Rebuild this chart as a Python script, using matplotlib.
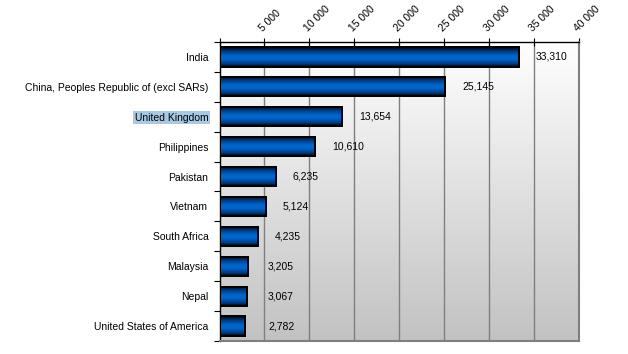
import numpy as np
import matplotlib
matplotlib.use("Agg")
import matplotlib.pyplot as plt
from matplotlib.colors import LinearSegmentedColormap

plt.rcParams['font.family'] = ['Liberation Sans', 'DejaVu Sans']

countries = ["India", "China, Peoples Republic of (excl SARs)", "United Kingdom",
             "Philippines", "Pakistan", "Vietnam", "South Africa", "Malaysia",
             "Nepal", "United States of America"]
values = [33310, 25145, 13654, 10610, 6235, 5124, 4235, 3205, 3067, 2782]
xticks = [5000, 10000, 15000, 20000, 25000, 30000, 35000, 40000]
xticklabels = ["5 000", "10 000", "15 000", "20 000", "25 000", "30 000", "35 000", "40 000"]

fig = plt.figure(figsize=(6.28, 3.54), dpi=100)
ax = fig.add_axes([219.5/628, 1-341/354, (579-219.5)/628, (341-42)/354])

n = len(countries)
ypos = np.arange(n)
ax.set_xlim(0, 40000)
ax.set_ylim(n - 0.5, -0.5)

# background gradient
bg = LinearSegmentedColormap.from_list("bg", ["#ffffff", "#c2c2c2"])
grad = np.linspace(0, 1, 256).reshape(-1, 1)
ax.imshow(grad, cmap=bg, aspect='auto', extent=[0, 40000, n - 0.5, -0.5],
          origin='upper', zorder=0)

for xt in xticks:
    ax.axvline(xt, color='#7f7f7f', lw=1.0, zorder=1)

bars = ax.barh(ypos, values, height=0.64, color='#0060c0', edgecolor='black',
               linewidth=1.4, zorder=3)

barcmap = LinearSegmentedColormap.from_list(
    "bar", [(0, "#000000"), (0.2, "#003a80"), (0.45, "#0066cc"),
            (0.6, "#0066cc"), (0.85, "#003a80"), (1, "#000000")])
bgrad = np.linspace(0, 1, 64).reshape(-1, 1)
for b in bars:
    x0, y0, w, h = b.get_x(), b.get_y(), b.get_width(), b.get_height()
    im = ax.imshow(bgrad, cmap=barcmap, aspect='auto',
                   extent=[x0, x0 + w, y0 + h, y0], origin='upper', zorder=4)
    im.set_clip_path(b)
    ax.add_patch(plt.Rectangle((x0, y0), w, h, fill=False, edgecolor='black',
                               linewidth=1.4, zorder=5))

for y, v in zip(ypos, values):
    lx = max(v + 1900, 5400)
    ax.text(lx, y, f"{v:,}", va='center', ha='left', fontsize=7.5, color='black', zorder=6)

ax.set_yticks(ypos)
ax.set_yticklabels(countries, fontsize=7.5)
ax.tick_params(axis='y', length=0, pad=8)
for lbl in ax.get_yticklabels():
    if lbl.get_text() == "United Kingdom":
        lbl.set_bbox(dict(facecolor='#a9c9e2', edgecolor='none', pad=1))
# minor ticks on y at category boundaries
ax.set_yticks(np.arange(-0.5, n, 1), minor=True)
ax.tick_params(axis='y', which='minor', length=4, width=0.8, direction='out', color='black')

ax.xaxis.tick_top()
ax.set_xticks([0] + xticks)
ax.set_xticklabels([""] + xticklabels, rotation=45, ha='left', va='bottom',
                   fontsize=7.5, rotation_mode='anchor')
ax.tick_params(axis='x', length=6, width=0.8, direction='inout', pad=3)

for side in ['left', 'top']:
    ax.spines[side].set_color('black')
    ax.spines[side].set_linewidth(1.0)
for side in ['right', 'bottom']:
    ax.spines[side].set_color('#7f7f7f')
    ax.spines[side].set_linewidth(1.5)

fig.savefig("out.png", dpi=100)
